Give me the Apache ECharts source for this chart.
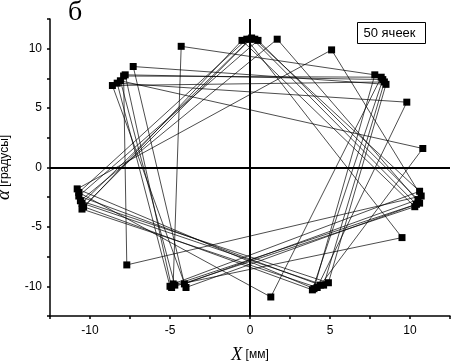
<!DOCTYPE html>
<html>
<head>
<meta charset="utf-8">
<script src="https://cdn.jsdelivr.net/npm/echarts@6/dist/echarts.min.js"></script>
<style>
  html, body { margin: 0; padding: 0; background: #fff; }
  #chart { width: 451px; height: 362px; }
</style>
</head>
<body>
<div id="chart"></div>
<script>
// trajectory of the cell centre, in the order it is drawn
const xValues = [
  0.3, 10.6, -4.8, -4.3, 7.8, 4.0, -10.8,
  5.1, 10.7, -7.7, -7.9, 8.2, 1.3, -10.7,
  -0.2, 9.5, -4.7, -8.1, 10.8, 4.4, -10.7,
  0.5, 10.5, -4.1, -7.3, 8.5, 4.9, -10.6,
  1.7, 10.6, -5.0, -8.3, 9.8, 4.2, -10.5,
  -0.5, 10.3, -4.9, -7.8, 8.3, 3.9, -10.4,
  0.1, 10.4, -4.0, -8.6, 8.4, 4.6, -10.5,
  0.0
]
const yValues = [
  10.8, -2.0, -9.8, 10.2, 7.8, -10.2, -1.8,
  9.9, -2.4, -8.2, 7.7, 7.6, -10.9, -2.1,
  10.8, -5.9, -9.9, 7.3, 1.6, -9.9, -2.4,
  10.7, -2.7, -9.8, 8.5, 7.0, -9.7, -2.8,
  10.8, -3.0, -10.0, 7.1, 5.5, -10.1, -3.5,
  10.7, -3.3, -10.1, 7.8, 7.4, -10.3, -3.3,
  10.9, -3.1, -10.1, 6.9, 7.2, -9.9, -3.0,
  10.8
]
const xTicks = [-10, -5, 0, 5, 10]
const yTicks = [-10, -5, 0, 5, 10]

const chart = echarts.init(document.getElementById('chart'))

const sans = '"Liberation Sans", Arial, sans-serif'
const serif = '"Liberation Serif", "DejaVu Serif", serif'

const tickLabel = (v) => (xTicks.includes(v) || yTicks.includes(v) ? String(v) : '')

const axisCommon = {
  type: 'value',
  min: -12.5,
  max: 12.5,
  interval: 2.5,
  axisLine: { onZero: false, lineStyle: { color: '#000', width: 1.5 } },
  axisTick: { show: true, length: 3, lineStyle: { color: '#000', width: 1.5 } },
  splitLine: { show: false },
  axisLabel: { color: '#000', fontFamily: sans, fontSize: 12, formatter: tickLabel },
  nameLocation: 'middle',
}

const option = {
  animation: false,
  backgroundColor: '#fff',
  grid: { left: 50, right: 1, top: 19, bottom: 46, containLabel: false, outerBoundsMode: 'none' },
  xAxis: {
    ...axisCommon,
    name: '{i|X} {t|[мм]}',
    nameGap: 30,
    nameTextStyle: {
      rich: {
        i: { fontFamily: serif, fontStyle: 'italic', fontSize: 18, color: '#000' },
        t: { fontFamily: sans, fontSize: 12, color: '#000' },
      },
    },
    axisLabel: { ...axisCommon.axisLabel, margin: 9 },
  },
  yAxis: {
    ...axisCommon,
    name: '{i|α} {t|[градусы]}',
    nameGap: 35,
    nameTextStyle: {
      rich: {
        i: { fontFamily: serif, fontStyle: 'italic', fontSize: 19, color: '#000' },
        t: { fontFamily: sans, fontSize: 12, color: '#000' },
      },
    },
    axisLabel: { ...axisCommon.axisLabel, margin: 8 },
  },
  graphic: [
    {
      type: 'text',
      left: 68,
      top: -1,
      style: { text: 'б', font: '28px ' + serif, fill: '#000' },
    },
    {
      type: 'group',
      left: 357,
      top: 22,
      children: [
        { type: 'rect', shape: { x: 0, y: 0, width: 68, height: 21 }, style: { fill: '#fff', stroke: '#000', lineWidth: 1 } },
        { type: 'text', x: 6, y: 4, style: { text: '50 ячеек', font: '13px ' + sans, fill: '#000' } },
      ],
    },
  ],
  series: [
    {
      type: 'line',
      data: xValues.map((x, i) => [x, yValues[i]]),
      symbol: 'rect',
      symbolSize: 7,
      showAllSymbol: true,
      itemStyle: { color: '#000' },
      lineStyle: { color: '#000', width: 0.7 },
      markLine: {
        silent: true,
        symbol: 'none',
        label: { show: false },
        lineStyle: { color: '#000', width: 2, type: 'solid' },
        data: [{ xAxis: 0 }, { yAxis: 0 }],
      },
    },
  ],
}

chart.setOption(option)
</script>
</body>
</html>
